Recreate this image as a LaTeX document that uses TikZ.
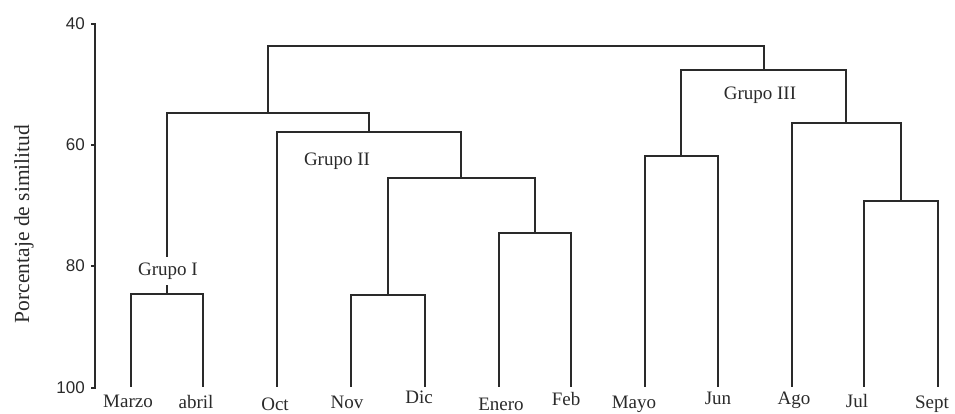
\documentclass[tikz,border=0pt]{standalone}
\usepackage{fontspec}
\setmainfont{Liberation Serif}
\newfontfamily\axisfont{Liberation Sans}
\definecolor{ink}{HTML}{2A2A2A}
\begin{document}
\begin{tikzpicture}[x=1pt,y=-1pt,
  link/.style={draw=ink, line width=1.8pt, line cap=rect},
  leaf/.style={anchor=base, inner sep=0pt, text=ink, font=\fontsize{19}{22}\selectfont},
  grp/.style={fill=white, inner xsep=2pt, inner ysep=6pt, text=ink, font=\fontsize{19}{22}\selectfont},
  ticklab/.style={anchor=east, inner sep=0pt, text=ink, font=\axisfont\fontsize{17}{20}\selectfont},
  axtitle/.style={rotate=90, inner sep=0pt, text=ink, font=\fontsize{21.5}{24}\selectfont}]
\useasboundingbox (0,0) rectangle (955,413);

% axis
\coordinate (a40) at (95,24);
\coordinate (a60) at (95,145);
\coordinate (a80) at (95,266);
\coordinate (a100) at (95,388);
\draw[link] (a40) -- (a100);
\foreach \n in {40,60,80,100}{
  \draw[draw=ink, line width=1.5pt] (a\n) -- ++(-4,0);
  \node[ticklab] (t\n) at ([xshift=-10pt]a\n) {\n};
}
\node[axtitle] (ytitle) at (24,224) {Porcentaje de similitud};

% leaf tops
\coordinate (pMar) at (131,386);
\coordinate (pAbr) at (203,386);
\coordinate (pOct) at (277,386);
\coordinate (pNov) at (351,386);
\coordinate (pDic) at (425,386);
\coordinate (pEne) at (499,386);
\coordinate (pFeb) at (571,386);
\coordinate (pMay) at (645,386);
\coordinate (pJun) at (718,386);
\coordinate (pAgo) at (792,386);
\coordinate (pJul) at (864,386);
\coordinate (pSep) at (938,386);

% merges
\coordinate (mI) at (167,294);
\coordinate (mND) at (388,295);
\coordinate (mEF) at (535,233);
\coordinate (mNE) at (461,178);
\coordinate (mII) at (369,132);
\coordinate (mL) at (268,113);
\coordinate (mMJ) at (681,156);
\coordinate (mJS) at (901,201);
\coordinate (mAJ) at (846,123);
\coordinate (mIII) at (764,70);
\coordinate (mTop) at (516,46);

\draw[link] (pMar) |- (mI) -| (pAbr);
\draw[link] (pNov) |- (mND) -| (pDic);
\draw[link] (pEne) |- (mEF) -| (pFeb);
\draw[link] (mND) |- (mNE) -| (mEF);
\draw[link] (pOct) |- (mII) -| (mNE);
\draw[link] (mI) |- (mL) -| (mII);
\draw[link] (pMay) |- (mMJ) -| (pJun);
\draw[link] (pJul) |- (mJS) -| (pSep);
\draw[link] (pAgo) |- (mAJ) -| (mJS);
\draw[link] (mMJ) |- (mIII) -| (mAJ);
\draw[link] (mL) |- (mTop) -| (mIII);

% group labels
\node[grp] (gI) at (168,271) {Grupo I};
\node[grp] (gII) at (337,161) {Grupo II};
\node[grp] (gIII) at (760,95) {Grupo III};

% leaf labels
\node[leaf] (lMar) at (128,407) {Marzo};
\node[leaf] (lAbr) at (196,408) {abril};
\node[leaf] (lOct) at (275,410) {Oct};
\node[leaf] (lNov) at (347,408) {Nov};
\node[leaf] (lDic) at (419,403) {Dic};
\node[leaf] (lEne) at (501,410) {Enero};
\node[leaf] (lFeb) at (566,405) {Feb};
\node[leaf] (lMay) at (634,408) {Mayo};
\node[leaf] (lJun) at (718,404) {Jun};
\node[leaf] (lAgo) at (794,404) {Ago};
\node[leaf] (lJul) at (857,407) {Jul};
\node[leaf] (lSep) at (932,408) {Sept};
\end{tikzpicture}
\end{document}
